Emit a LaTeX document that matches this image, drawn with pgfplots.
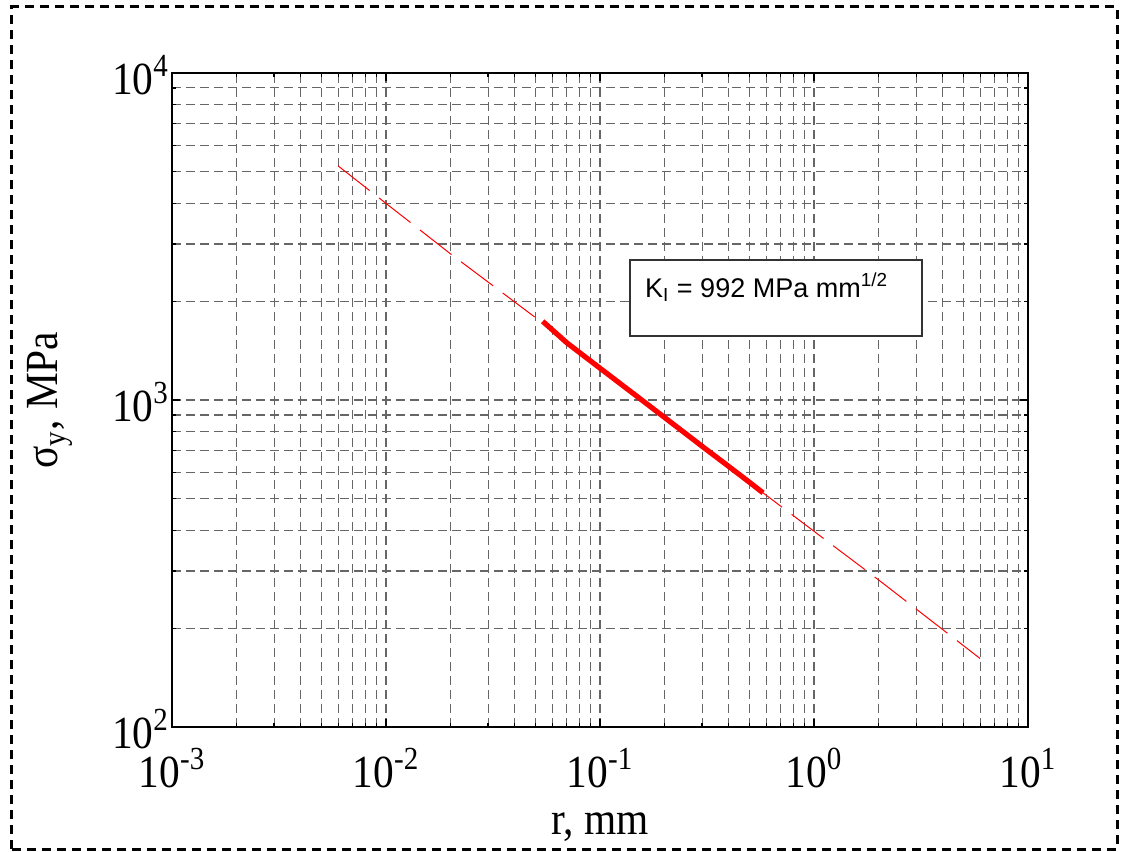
\documentclass[border=0pt]{standalone}
\usepackage{fontspec}
\setmainfont{Liberation Serif}[FakeStretch=0.9]
\newfontfamily\arial{Liberation Sans}
\usepackage{pgfplots}
\pgfplotsset{compat=1.18}
\begin{document}
\begin{tikzpicture}
\begin{axis}[
  scale only axis, width=428pt, height=327pt,
  xmode=log, ymode=log, log basis x=10, log basis y=10,
  xmin=1e-3, xmax=10, ymin=100, ymax=1e4,
  grid=both,
  major grid style={gray!80!black, line width=0.55pt, dash pattern=on 4.5pt off 2.5pt},
  minor grid style={gray!80!black, line width=0.55pt, dash pattern=on 4.5pt off 2.5pt},
  axis line style={black, line width=1pt},
  tick align=inside,
  major tick length=4pt, minor tick length=2pt,
  tick style={black, line width=0.6pt},
  tick label style={font=\fontsize{23}{25}\selectfont},
  xticklabel style={yshift=-7pt},
  yticklabel style={xshift=2pt, yshift=-1pt},
  label style={font=\fontsize{23}{25}\selectfont},
  xticklabel={\pgfmathparse{int(round(\tick))}10\textsuperscript{\pgfmathresult}},
  yticklabel={\pgfmathparse{int(round(\tick))}10\textsuperscript{\pgfmathresult}},
  xlabel={r, mm},
  ylabel={σ\textsubscript{y}, MPa},
  xlabel style={at={(axis description cs:0.5,0)}, anchor=center, yshift=-50pt},
  ylabel style={at={(axis description cs:0,0.5)}, anchor=center, yshift=61pt},
]
\addplot[red, line width=0.5pt, dash pattern=on 20pt off 6pt] coordinates {
  (0.00597,5200) (0.02,2800) (0.054,1720) (0.2,885) (0.578,520) (2,282) (5.97,162)
};
\addplot[red, line width=2.6pt] coordinates {
  (0.054,1740) (0.07,1496) (0.1,1251) (0.15,1022) (0.2,885) (0.3,722) (0.4,626) (0.5,560) (0.578,520)
};
\node[draw=gray!40!black, line width=0.8pt, fill=white, minimum width=146pt, minimum height=38pt, inner sep=0pt] at (axis cs:0.664,2052) {};
\node[anchor=base west, inner sep=0pt, font=\arial\fontsize{13.5}{15}\selectfont] at (axis cs:0.162,2065) {K\textsubscript{I} = 992 MPa mm\textsuperscript{1/2}};
\coordinate (SW) at (rel axis cs:0,0);
\coordinate (NE) at (rel axis cs:1,1);
\end{axis}
\pgfresetboundingbox
\useasboundingbox ([shift={(-86pt,-62pt)}]SW) rectangle ([shift={(47pt,36.5pt)}]NE);
\draw[black, line width=1.5pt, dash pattern=on 4.5pt off 3pt] ([shift={(-80pt,-61pt)}]SW) rectangle ([shift={(44.5pt,33pt)}]NE);
\end{tikzpicture}
\end{document}
